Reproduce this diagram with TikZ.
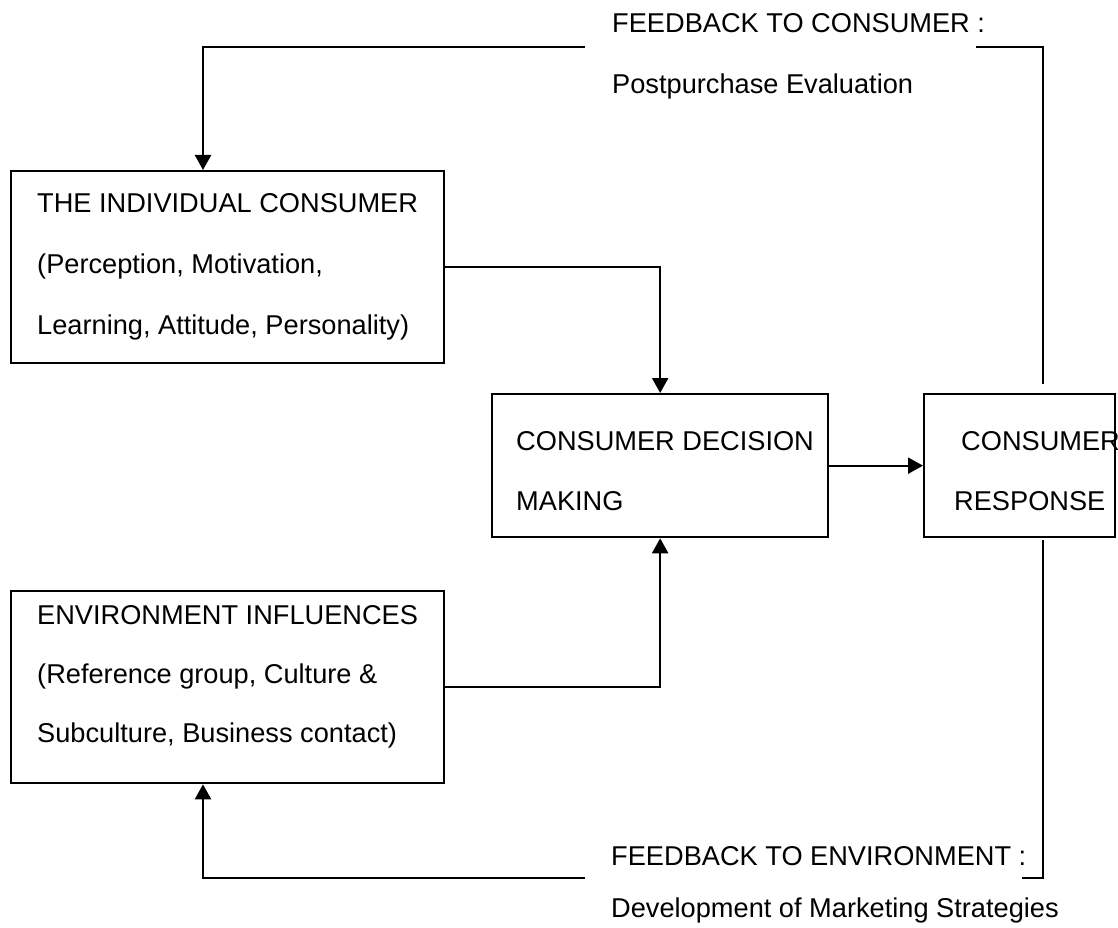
\documentclass[tikz,border=0pt]{standalone}
\usepackage{fontspec}
\setmainfont{Liberation Sans}
\usetikzlibrary{arrows.meta}
\tikzset{
  box/.style={draw, line width=2.3pt, rectangle, inner sep=0pt, anchor=north west},
  txt/.style={anchor=base west, inner sep=0pt, font=\fontsize{27.2}{30}\selectfont},
  wire/.style={line width=2.3pt},
  arr/.style={wire, -{Triangle[length=15pt,width=16pt]}}
}
\begin{document}
\begin{tikzpicture}[x=1pt,y=-1pt]
\useasboundingbox (0,0) rectangle (1118,928);

% boxes
\node[box, minimum width=433pt, minimum height=192pt] (ind) at (10,170) {};
\node[box, minimum width=336pt, minimum height=143pt] (dec) at (491,393) {};
\node[box, minimum width=191pt, minimum height=143pt] (resp) at (923,393) {};
\node[box, minimum width=433pt, minimum height=192pt] (env) at (10,590) {};

% box texts
\node[txt] (ind1) at (37,212) {THE INDIVIDUAL CONSUMER};
\node[txt] (ind2) at (37,273) {(Perception, Motivation,};
\node[txt] (ind3) at (37,334) {Learning, Attitude, Personality)};

\node[txt] (dec1) at (516,450) {CONSUMER DECISION};
\node[txt] (dec2) at (516,510) {MAKING};

\node[txt] (resp1) at (961,450) {CONSUMER};
\node[txt] (resp2) at (954,510) {RESPONSE};

\node[txt] (env1) at (37,624) {ENVIRONMENT INFLUENCES};
\node[txt] (env2) at (37,683) {(Reference group, Culture \&};
\node[txt] (env3) at (37,742) {Subculture, Business contact)};

% feedback labels
\node[txt] (fc1) at (612,33) {FEEDBACK TO CONSUMER :};
\node[txt] (fc2) at (612,94) {Postpurchase Evaluation};
\node[txt] (fe1) at (611,865) {FEEDBACK TO ENVIRONMENT :};
\node[txt] (fe2) at (611,917) {Development of Marketing Strategies};

% main flow
\draw[arr] (ind.east) -| (dec.north);
\draw[arr] (env.east) -| (dec.south);
\draw[arr] (dec.east) -- (resp.west);

% feedback to consumer
\coordinate (ftR) at (1043,384);
\coordinate (ftC) at (1043,47);
\coordinate (ftA) at (976,47);
\coordinate (ftB) at (585,47);
\coordinate (ftL) at (203,47);
\draw[wire] (ftR) -- (ftC) -- (ftA);
\draw[arr] (ftB) -- (ftL) -- (ftL |- ind.north);

% feedback to environment
\coordinate (fbR) at (1043,540);
\coordinate (fbC) at (1043,878);
\coordinate (fbA) at (1022,878);
\coordinate (fbB) at (585,878);
\coordinate (fbL) at (203,878);
\draw[wire] (fbR) -- (fbC) -- (fbA);
\draw[arr] (fbB) -- (fbL) -- (fbL |- env.south);
\end{tikzpicture}
\end{document}
